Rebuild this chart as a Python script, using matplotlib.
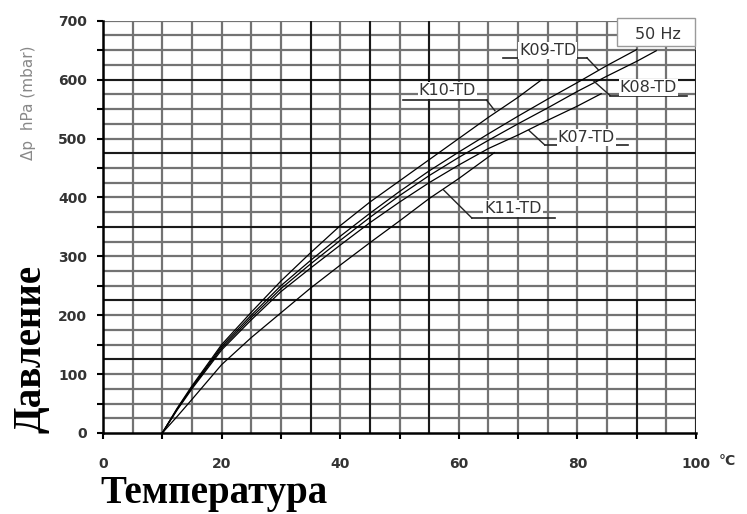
import numpy as np
import matplotlib.pyplot as plt
from matplotlib.patches import Rectangle

# Pressure difference curves (50 Hz)
# x: temperature in degC, y: delta p in hPa (mbar)
K10_X = [10, 12.5, 15, 20, 25, 30, 35, 40, 45, 50, 55, 60, 65, 70, 74]
K10_Y = [0, 42, 80, 150, 205, 258, 306, 352, 392, 428, 464, 500, 536, 570, 600]

K09_X = [10, 12.5, 15, 20, 25, 30, 35, 40, 45, 50, 55, 60, 65, 70, 75, 80, 85, 90]
K09_Y = [0, 41, 78, 147, 200, 250, 293, 334, 373, 410, 445, 477, 508, 538, 567, 595, 624, 651]

K08_X = [10, 12.5, 15, 20, 25, 30, 35, 40, 45, 50, 55, 60, 65, 70, 75, 80, 85, 90, 93.3]
K08_Y = [0, 40, 77, 144, 196, 245, 287, 327, 366, 403, 437, 468, 497, 525, 552, 580, 606, 631, 649]

K07_X = [10, 12.5, 15, 20, 25, 30, 35, 40, 45, 50, 55, 60, 65, 70, 75, 80, 84]
K07_Y = [0, 39, 75, 141, 192, 240, 280, 319, 357, 392, 425, 455, 483, 506, 531, 555, 576]

K11_X = [10, 12.5, 15, 20, 25, 30, 35, 40, 45, 50, 55, 60, 66]
K11_Y = [0, 28, 57, 116, 162, 204, 246, 285, 323, 360, 398, 432, 476]

CURVES = [(K10_X, K10_Y), (K09_X, K09_Y), (K08_X, K08_Y), (K07_X, K07_Y), (K11_X, K11_Y)]

# curve labels: name, text centre, underline start/end, point on the curve
LABELS = ["K10-TD", "K09-TD", "K08-TD", "K07-TD", "K11-TD"]
LABEL_POS = [(58.1, 582), (75.0, 649), (92.0, 586), (81.5, 502), (69.2, 381)]
SHELF_X = [(50.6, 64.7), (67.5, 81.6), (85.5, 98.4), (74.5, 88.6), (62.2, 76.2)]
SHELF_Y = [565, 637, 573, 489, 365]
SHELF_END = [64.7, 81.6, 85.5, 74.5, 62.2]
CURVE_PT = [(66.1, 547), (83.5, 617), (82.7, 598), (71.8, 514), (57.4, 413)]

X_TICKS = [0, 20, 40, 60, 80, 100]
Y_TICKS = [0, 100, 200, 300, 400, 500, 600, 700]

# darker lines of the printed grid paper
BOLD_Y = [125, 225, 350, 475, 600]
BOLD_X = [35, 45, 55]

W, H = 747, 514
fig = plt.figure(figsize=(W / 100, H / 100), dpi=100)
ax = fig.add_axes([103 / W, 1 - 433 / H, 593 / W, 412.3 / H])
ax.set_xlim(0, 100)
ax.set_ylim(0, 700)

# grid paper
grid_col = "#737373"
ax.vlines(np.arange(5, 101, 5), 0, 700, color=grid_col, lw=1.6, zorder=1)
ax.hlines(np.arange(25, 701, 25), 0, 100, color=grid_col, lw=1.6, zorder=1)
ax.hlines(BOLD_Y, 0, 100, color="black", lw=1.1, zorder=1.5)
ax.vlines(BOLD_X, 0, 700, color="black", lw=1.1, zorder=1.5)
ax.vlines([90], 0, 225, color="black", lw=1.1, zorder=1.5)
ax.vlines([100], 0, 650, color="#222222", lw=1.4, zorder=1.5)

for cx, cy in CURVES:
    ax.plot(cx, cy, color="black", lw=0.9, zorder=3)

for name, (tx, ty), (sx0, sx1), sy, se, (px, py) in zip(
        LABELS, LABEL_POS, SHELF_X, SHELF_Y, SHELF_END, CURVE_PT):
    ax.plot([sx0, sx1], [sy, sy], color="#222222", lw=1.2, zorder=4)
    ax.plot([se, px], [sy, py], color="#222222", lw=1.0, zorder=4)
    ax.text(tx, ty, name, ha="center", va="center", fontsize=11.5, color="#333333",
            zorder=5, bbox=dict(facecolor="white", edgecolor="none", pad=0.8))

ax.add_patch(Rectangle((86.6, 657), 13.3, 48, facecolor="white", edgecolor="#9a9a9a",
                       lw=1.0, zorder=6, clip_on=False))
ax.text(93.5, 677, "50 Hz", ha="center", va="center", fontsize=11.5, color="#333333", zorder=7)

for side in ["top", "right"]:
    ax.spines[side].set_visible(False)
for side in ["left", "bottom"]:
    ax.spines[side].set_linewidth(1.8)
    ax.spines[side].set_zorder(8)

ax.set_xticks(np.arange(0, 101, 10))
ax.set_xticklabels([str(t) if t in X_TICKS else "" for t in range(0, 101, 10)])
ax.set_yticks(np.arange(0, 701, 50))
ax.set_yticklabels([str(t) if t in Y_TICKS else "" for t in range(0, 701, 50)])
ax.tick_params(axis="x", length=4.5, width=1.5, pad=12.5, labelsize=10, labelcolor="#333333")
ax.tick_params(axis="y", length=4.5, width=1.5, pad=7, labelsize=10, labelcolor="#333333")
for lab in ax.get_xticklabels() + ax.get_yticklabels():
    lab.set_fontweight("bold")

fig.text(727 / W, 1 - 461 / H, "°C", ha="center", va="center", fontsize=10,
         fontweight="bold", color="#333333")
fig.text(28 / W, 1 - 103 / H, "Δp  hPa (mbar)", rotation=90, ha="center", va="center",
         fontsize=11, color="#888888")
fig.text(31 / W, 1 - 349 / H, "Давление", rotation=90, ha="center", va="center",
         fontsize=28, fontweight="bold", family="Liberation Serif", color="black")
fig.text(100 / W, 1 - 503 / H, "Температура", ha="left", va="baseline",
         fontsize=28, fontweight="bold", family="Liberation Serif", color="black")

fig.savefig("out.png", dpi=100, facecolor="white")
